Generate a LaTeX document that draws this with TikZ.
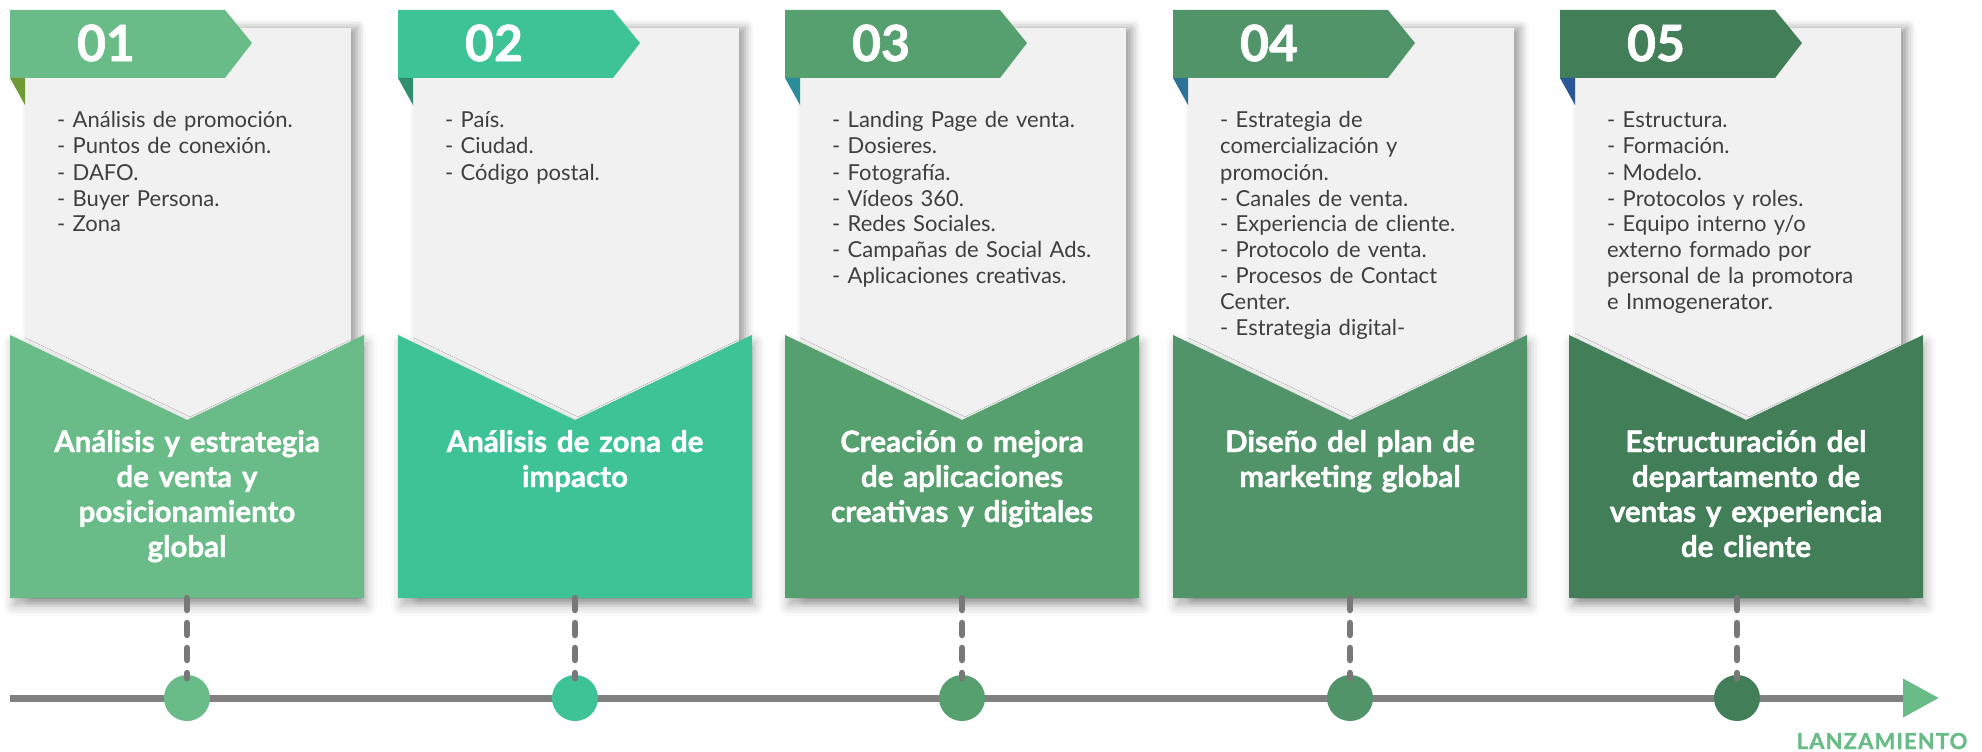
\documentclass[tikz,border=0pt]{standalone}
\usepackage{fontspec}
\setmainfont{Lato}
\newfontfamily\heavyfont{Lato}[FakeBold=1.3]
\usetikzlibrary{arrows.meta,shadows.blur}

\definecolor{textgray}{HTML}{3F3F3F}
\definecolor{cardgray}{HTML}{F1F1F1}
\definecolor{linegray}{HTML}{808080}
\definecolor{linkgray}{HTML}{787878}
\definecolor{stepA}{HTML}{69BC88}
\definecolor{stepB}{HTML}{3EC396}
\definecolor{stepC}{HTML}{55A06E}
\definecolor{stepD}{HTML}{52946A}
\definecolor{stepE}{HTML}{427F59}
\definecolor{flapA}{HTML}{6F9A35}
\definecolor{flapB}{HTML}{2E8E6D}
\definecolor{flapC}{HTML}{2A8E9A}
\definecolor{flapD}{HTML}{2D7398}
\definecolor{flapE}{HTML}{2C5797}

\tikzset{
  cardbox/.style={fill=cardgray,
    blur shadow={shadow xshift=6pt, shadow yshift=0pt, shadow blur radius=9pt, shadow opacity=40}},
  footbox/.style={fill=#1,
    blur shadow={shadow xshift=3pt, shadow yshift=-8pt, shadow blur radius=10pt, shadow opacity=30}},
  numtext/.style={text=white, inner sep=0pt, font=\heavyfont\bfseries\fontsize{50}{50}\selectfont},
  itemtext/.style={anchor=base west, text width=300pt, align=left, inner sep=0pt,
    text=textgray, font=\fontsize{22}{26}\selectfont},
  titletext/.style={anchor=base, text width=350pt, align=center, inner sep=0pt,
    text=white, font=\heavyfont\bfseries\fontsize{29.5}{35}\selectfont},
  stagedot/.style={circle, fill=#1, minimum size=46pt, inner sep=0pt},
  stagelink/.style={draw=linkgray, line width=6.5pt, line cap=round, dash pattern=on 12pt off 13pt},
}

% #1 id, #2 left edge, #3 colour, #4 flap colour, #5 number, #6 items, #7 title, #8 shift of the foot
\newcommand{\stage}[8]{%
  \fill[cardbox] (#2+15,28) rectangle (#2+341,598);
  \fill[#3] (#2,10) -- (#2+215,10) -- (#2+242,43) -- (#2+215,78) -- (#2,78) -- cycle;
  \fill[#4] (#2,78) -- (#2+15,78) -- (#2+15,105) -- cycle;
  \node[numtext] (num#1) at (#2+96,43) {#5};
  \node[itemtext] (items#1) at (#2+47,128) {#6};
  \fill[footbox=#3] (#2+#8,335) -- (#2+#8+177,420) -- (#2+#8+354,335)
     -- (#2+#8+354,598) -- (#2+#8,598) -- cycle;
  \node[titletext] (title#1) at (#2+#8+177,452) {#7};
  \coordinate (foot#1) at (#2+177,598);
}

\begin{document}
\begin{tikzpicture}[x=1pt,y=-1pt]

   \useasboundingbox (0,0) rectangle (1982,752);

   % Stages
   \stage{1}{10}{stepA}{flapA}{01}
     {- Análisis de promoción.\\- Puntos de conexión.\\- DAFO.\\- Buyer Persona.\\- Zona}
     {Análisis y estrategia\\de venta y\\posicionamiento\\global}{0}
   \stage{2}{398}{stepB}{flapB}{02}
     {- País.\\- Ciudad.\\- Código postal.}
     {Análisis de zona de\\impacto}{0}
   \stage{3}{785}{stepC}{flapC}{03}
     {- Landing Page de venta.\\- Dosieres.\\- Fotografía.\\- Vídeos 360.\\- Redes Sociales.\\- Campañas de Social Ads.\\- Aplicaciones creativas.}
     {Creación o mejora\\de aplicaciones\\creativas y digitales}{0}
   \stage{4}{1173}{stepD}{flapD}{04}
     {- Estrategia de\\comercialización y\\promoción.\\- Canales de venta.\\- Experiencia de cliente.\\- Protocolo de venta.\\- Procesos de Contact\\Center.\\- Estrategia digital-}
     {Diseño del plan de\\marketing global}{0}
   \stage{5}{1560}{stepE}{flapE}{05}
     {- Estructura.\\- Formación.\\- Modelo.\\- Protocolos y roles.\\- Equipo interno y/o\\externo formado por\\personal de la promotora\\e Inmogenerator.}
     {Estructuración del\\departamento de\\ventas y experiencia\\de cliente}{9}

   % Time line
   \coordinate (tlstart) at (10,698);
   \coordinate (tlend) at (1939,698);
   \draw[linegray, line width=7pt, -{Triangle[length=36pt,width=37pt,color=stepA]}] (tlstart) -- (tlend);

   \foreach \i/\c in {1/stepA,2/stepB,3/stepC,4/stepD,5/stepE}{
       \node[stagedot=\c] (dot\i) at (foot\i |- tlstart) {};
       \draw[stagelink] (foot\i) -- ([yshift=-3.5pt]dot\i.north);
   }

   \node[anchor=base, text=stepA, font=\heavyfont\bfseries\fontsize{22}{22}\selectfont\addfontfeature{LetterSpace=5}]
        (launch) at (1882,749) {LANZAMIENTO};

\end{tikzpicture}
\end{document}
